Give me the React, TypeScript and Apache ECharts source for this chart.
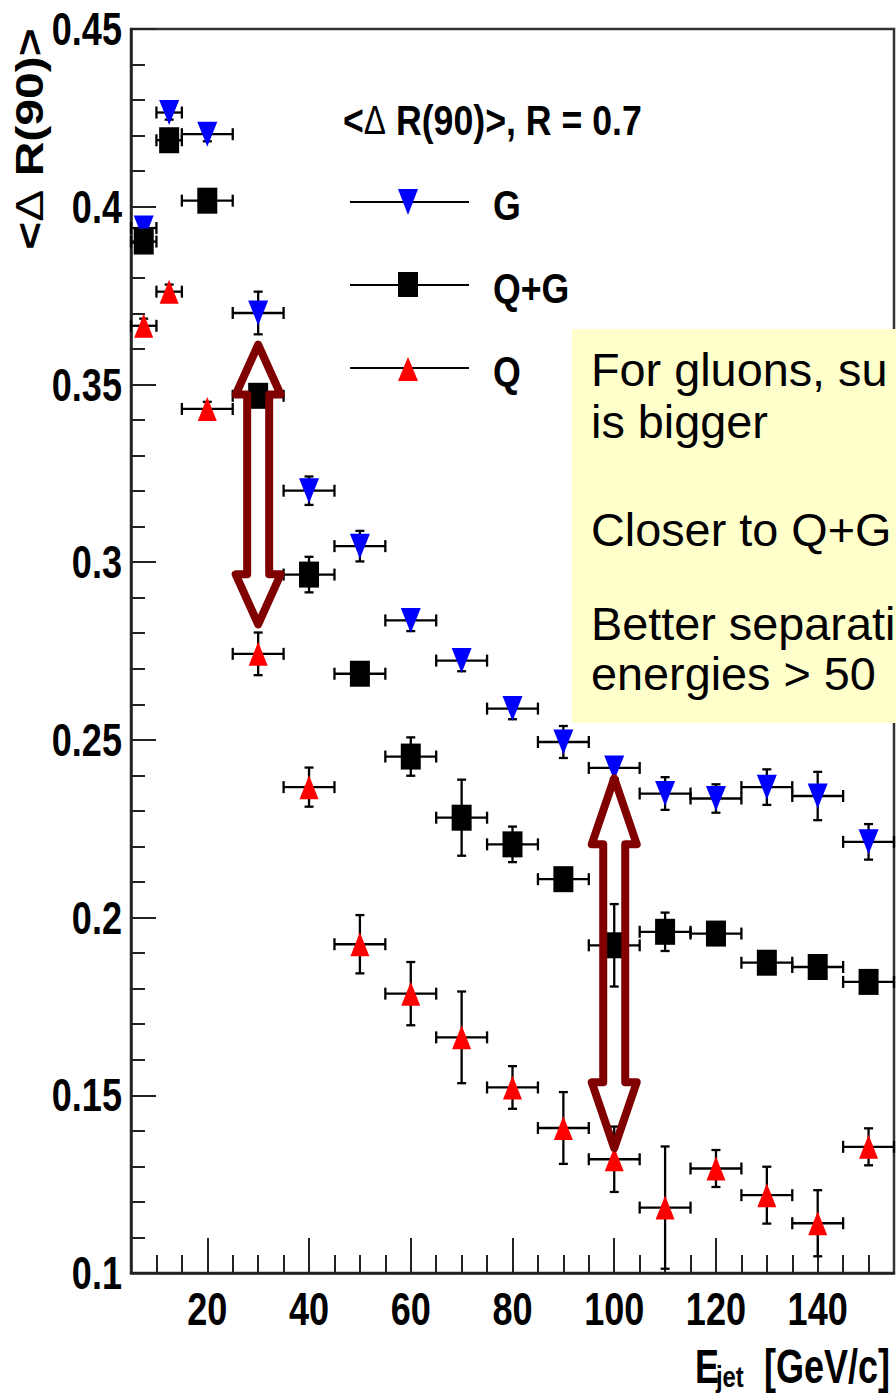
import React, { useEffect, useRef } from "react";
import * as echarts from "echarts";

// ---------- data ----------
const binCenters = [7.5, 12.5, 20, 30, 40, 50, 60, 70, 80, 90, 100, 110, 120, 130, 140, 150];
const binHalfWidths = [2.5, 2.5, 5, 5, 5, 5, 5, 5, 5, 5, 5, 5, 5, 5, 5, 5];

const gluonValues = [0.394, 0.4265, 0.4204, 0.3701, 0.3201, 0.3045, 0.2836, 0.2723, 0.2588, 0.2494, 0.2421, 0.2349, 0.2335, 0.2367, 0.2342, 0.2213];
const gluonErrors = [0.002, 0.002, 0.002, 0.006, 0.004, 0.0043, 0.003, 0.003, 0.003, 0.0045, 0.003, 0.0046, 0.004, 0.005, 0.0068, 0.005];

const mixedValues = [0.3902, 0.4187, 0.4017, 0.3468, 0.2965, 0.2686, 0.2453, 0.2281, 0.2206, 0.2108, 0.1922, 0.196, 0.1955, 0.1873, 0.1861, 0.1819];
const mixedErrors = [0.003, 0.002, 0.002, 0.003, 0.005, 0.003, 0.0054, 0.0107, 0.005, 0.003, 0.0116, 0.0054, 0.003, 0.003, 0.003, 0.003];

const quarkValues = [0.3665, 0.3761, 0.3431, 0.2742, 0.2367, 0.1925, 0.1786, 0.1663, 0.1522, 0.1408, 0.132, 0.1184, 0.1294, 0.1219, 0.114, 0.1355];
const quarkErrors = [0.002, 0.002, 0.002, 0.006, 0.0055, 0.0082, 0.0089, 0.0129, 0.006, 0.0101, 0.0092, 0.0172, 0.0052, 0.008, 0.0093, 0.0052];

const xMajorTicks = [20, 40, 60, 80, 100, 120, 140];
const xMinorTicks = [10, 15, 25, 30, 35, 45, 50, 55, 65, 70, 75, 85, 90, 95, 105, 110, 115, 125, 130, 135, 145, 150];
const yTickValues = [0.1, 0.15, 0.2, 0.25, 0.3, 0.35, 0.4, 0.45];

const arrowX = [30, 100];
const arrowTop = [0.3612, 0.2392];
const arrowBottom = [0.2825, 0.1351];

const legendTitleRest = " R(90)>, R = 0.7";
const legendLabels = ["G", "Q+G", "Q"];
const annotationLines = ["For gluons, su", "is bigger", "Closer to Q+G", "Better separati", "energies > 50"];

// ---------- style ----------
const BOLD_FONT = "'Liberation Sans', Arial, sans-serif";
const AXIS_COLOR = "#222";
const ARROW_HEAD_PX = [50, 66];
const ANNOT_BASELINES = [386.7, 438.3, 546.7, 640, 690];
const NARROW = 0.82;

function errorRender(params: any, api: any) {
  const x = api.value(0);
  const y = api.value(1);
  const xe = api.value(2);
  const ye = api.value(3);
  const l = api.coord([x - xe, y]);
  const r = api.coord([x + xe, y]);
  const t = api.coord([x, y + ye]);
  const b = api.coord([x, y - ye]);
  const style = { stroke: "#000", lineWidth: 2.3 };
  const C = 6;
  const V = 4.5;
  return {
    type: "group",
    children: [
      { type: "line", shape: { x1: l[0], y1: l[1], x2: r[0], y2: r[1] }, style },
      { type: "line", shape: { x1: l[0], y1: l[1] - C, x2: l[0], y2: l[1] + C }, style },
      { type: "line", shape: { x1: r[0], y1: r[1] - C, x2: r[0], y2: r[1] + C }, style },
      { type: "line", shape: { x1: t[0], y1: t[1], x2: b[0], y2: b[1] }, style },
      { type: "line", shape: { x1: t[0] - V, y1: t[1], x2: t[0] + V, y2: t[1] }, style },
      { type: "line", shape: { x1: b[0] - V, y1: b[1], x2: b[0] + V, y2: b[1] }, style },
    ],
  };
}

function arrowRender(params: any, api: any) {
  const x = api.value(0);
  const yt = api.value(1);
  const yb = api.value(2);
  const idx = api.value(3);
  const top = api.coord([x, yt]);
  const bot = api.coord([x, yb]);
  const cx = top[0];
  const h = ARROW_HEAD_PX[idx];
  const hw = 22.5;
  const sw = 11;
  const points = [
    [cx, top[1]],
    [cx + hw, top[1] + h],
    [cx + sw, top[1] + h],
    [cx + sw, bot[1] - h],
    [cx + hw, bot[1] - h],
    [cx, bot[1]],
    [cx - hw, bot[1] - h],
    [cx - sw, bot[1] - h],
    [cx - sw, top[1] + h],
    [cx - hw, top[1] + h],
  ];
  return {
    type: "polygon",
    shape: { points },
    style: { fill: "none", stroke: "#800000", lineWidth: 8, lineJoin: "round" },
  };
}

function errSeries(values: number[], errors: number[]) {
  return {
    type: "custom",
    xAxisIndex: 0,
    yAxisIndex: 0,
    silent: true,
    z: 2,
    encode: { x: 0, y: 1 },
    data: binCenters.map((x, i) => [x, values[i], binHalfWidths[i], errors[i]]),
    renderItem: errorRender,
  };
}

function markerSeries(name: string, values: number[], symbol: string, rotate: number, size: number[], color: string) {
  return {
    type: "scatter",
    name,
    xAxisIndex: 0,
    yAxisIndex: 0,
    silent: true,
    z: 3,
    symbol,
    symbolRotate: rotate,
    symbolSize: size,
    itemStyle: { color, opacity: 1 },
    data: binCenters.map((x, i) => [x, values[i]]),
  };
}

const centerFromBaseline = (baseline: number, fs: number) => baseline - 0.3465 * fs;

function txt(text: string, x: number, y: number, fs: number, align: string, opts: any = {}) {
  return {
    type: "text",
    x,
    y,
    z: opts.z ?? 60,
    scaleX: opts.scaleX ?? 1,
    scaleY: opts.scaleY ?? 1,
    rotation: opts.rotation ?? 0,
    style: {
      text,
      fontFamily: opts.fontFamily ?? BOLD_FONT,
      fontWeight: opts.fontWeight ?? "bold",
      fontSize: fs,
      fill: "#000",
      align,
      textAlign: align,
      verticalAlign: "middle",
      textVerticalAlign: "middle",
      rich: opts.rich,
    },
  };
}

function buildGraphics(chart: any) {
  const els: any[] = [];
  // tick labels, positioned through the axes' scales
  const axisY = chart.convertToPixel({ yAxisIndex: 0 }, 0.1);
  const axisX = chart.convertToPixel({ xAxisIndex: 0 }, 5);
  xMajorTicks.forEach((v) => {
    const px = chart.convertToPixel({ xAxisIndex: 0 }, v);
    els.push(txt(String(v), px, axisY + 36, 44, "center", { scaleX: NARROW, scaleY: 1.07 }));
  });
  yTickValues.forEach((v) => {
    const py = chart.convertToPixel({ yAxisIndex: 0 }, v);
    els.push(txt(String(v), axisX - 9, py, 44, "right", { scaleX: NARROW, scaleY: 1.05 }));
  });

  // y-axis title (rotated, compressed)
  els.push(
    txt("{b|<}{d|Δ}{b| R(90)>}", 29, 139, 48, "center", {
      rotation: Math.PI / 2,
      scaleY: NARROW,
      rich: {
        b: { fontFamily: BOLD_FONT, fontWeight: "bold", fontSize: 48, fill: "#000" },
        d: { fontFamily: BOLD_FONT, fontWeight: "normal", fontSize: 48, fill: "#000" },
      },
    })
  );
  // x-axis title
  els.push(txt("E", 695, centerFromBaseline(1382, 45), 45, "left", { scaleX: 0.8, scaleY: 1.08 }));
  els.push(txt("jet", 716, centerFromBaseline(1387, 29), 29, "left", { scaleX: 0.82 }));
  els.push(txt("[GeV/c]", 890, centerFromBaseline(1382, 45), 45, "right", { scaleX: 0.8, scaleY: 1.05 }));

  // legend
  els.push(
    txt("{b|<}{d|Δ}{b|" + legendTitleRest + "}", 343, centerFromBaseline(135, 43), 43, "left", {
      scaleX: 0.83,
      rich: {
        b: { fontFamily: BOLD_FONT, fontWeight: "bold", fontSize: 43, fill: "#000" },
        d: { fontFamily: BOLD_FONT, fontWeight: "normal", fontSize: 40, fill: "#000" },
      },
    })
  );
  const rowsY = [202, 285, 368];
  rowsY.forEach((ry, i) => {
    els.push({ type: "line", z: 60, shape: { x1: 350, y1: ry, x2: 469, y2: ry }, style: { stroke: "#000", lineWidth: 2 } });
    els.push(txt(legendLabels[i], 493, ry + 3, 43, "left", { scaleX: 0.83 }));
  });
  els.push({ type: "polygon", z: 61, shape: { points: [[398, 189], [418, 189], [408, 215]] }, style: { fill: "#0000ff" } });
  els.push({ type: "rect", z: 61, shape: { x: 398, y: 272, width: 20, height: 25 }, style: { fill: "#000" } });
  els.push({ type: "polygon", z: 61, shape: { points: [[408, 357], [418, 381], [398, 381]] }, style: { fill: "#ff0000" } });

  // annotation box
  els.push({ type: "rect", z: 70, shape: { x: 572, y: 329, width: 330, height: 394 }, style: { fill: "#ffffcc" } });
  annotationLines.forEach((t, i) => {
    els.push(txt(t, 591, centerFromBaseline(ANNOT_BASELINES[i], 46.8), 46.8, "left", { z: 71, fontWeight: "normal" }));
  });
  return els;
}

function buildOption() {
  return {
    animation: false,
    backgroundColor: "#fff",
    grid: {
      left: 131,
      right: 2,
      top: 29,
      bottom: 124,
      show: true,
      borderColor: "#333",
      borderWidth: 2.5,
      backgroundColor: "transparent",
    },
    xAxis: [
      {
        type: "value",
        min: 5,
        max: 155,
        position: "bottom",
        axisLine: { show: true, onZero: false, lineStyle: { color: AXIS_COLOR, width: 2.5 } },
        axisTick: { show: true, inside: true, length: 35, customValues: xMajorTicks, lineStyle: { color: AXIS_COLOR, width: 2 } },
        axisLabel: { show: false, customValues: xMajorTicks },
        splitLine: { show: false },
      },
      {
        type: "value",
        min: 5,
        max: 155,
        position: "bottom",
        axisLine: { show: false, onZero: false },
        axisTick: { show: true, inside: true, length: 18, customValues: xMinorTicks, lineStyle: { color: AXIS_COLOR, width: 2 } },
        axisLabel: { show: false },
        splitLine: { show: false },
      },
    ],
    yAxis: {
      type: "value",
      min: 0.1,
      max: 0.45,
      interval: 0.05,
      axisLine: { show: true, onZero: false, lineStyle: { color: AXIS_COLOR, width: 2.5 } },
      axisTick: { show: true, inside: true, length: 25, lineStyle: { color: AXIS_COLOR, width: 2 } },
      minorTick: { show: true, splitNumber: 5, length: 14, lineStyle: { color: AXIS_COLOR, width: 2 } },
      axisLabel: { show: false },
      splitLine: { show: false },
      minorSplitLine: { show: false },
    },
    series: [
      errSeries(gluonValues, gluonErrors),
      errSeries(mixedValues, mixedErrors),
      errSeries(quarkValues, quarkErrors),
      markerSeries("G", gluonValues, "triangle", 180, [20, 25], "#0000ff"),
      markerSeries("Q+G", mixedValues, "rect", 0, [20, 26], "#000000"),
      markerSeries("Q", quarkValues, "triangle", 0, [19, 24], "#ff0000"),
      {
        type: "custom",
        xAxisIndex: 0,
        yAxisIndex: 0,
        silent: true,
        z: 5,
        encode: { x: 0, y: 1 },
        data: arrowX.map((x, i) => [x, arrowTop[i], arrowBottom[i], i]),
        renderItem: arrowRender,
      },
    ],
  };
}

export default function App() {
  const ref = useRef<HTMLDivElement>(null);
  useEffect(() => {
    if (!ref.current) return;
    const chart = echarts.init(ref.current, null, { renderer: "svg" });
    chart.setOption(buildOption() as any);
    chart.setOption({ graphic: { elements: buildGraphics(chart) } } as any);
    return () => chart.dispose();
  }, []);
  return (
    <div style={{ position: "absolute", left: 0, top: 0, width: 896, height: 1397, overflow: "hidden", background: "#fff" }}>
      <div ref={ref} style={{ width: 896, height: 1397 }} />
    </div>
  );
}
